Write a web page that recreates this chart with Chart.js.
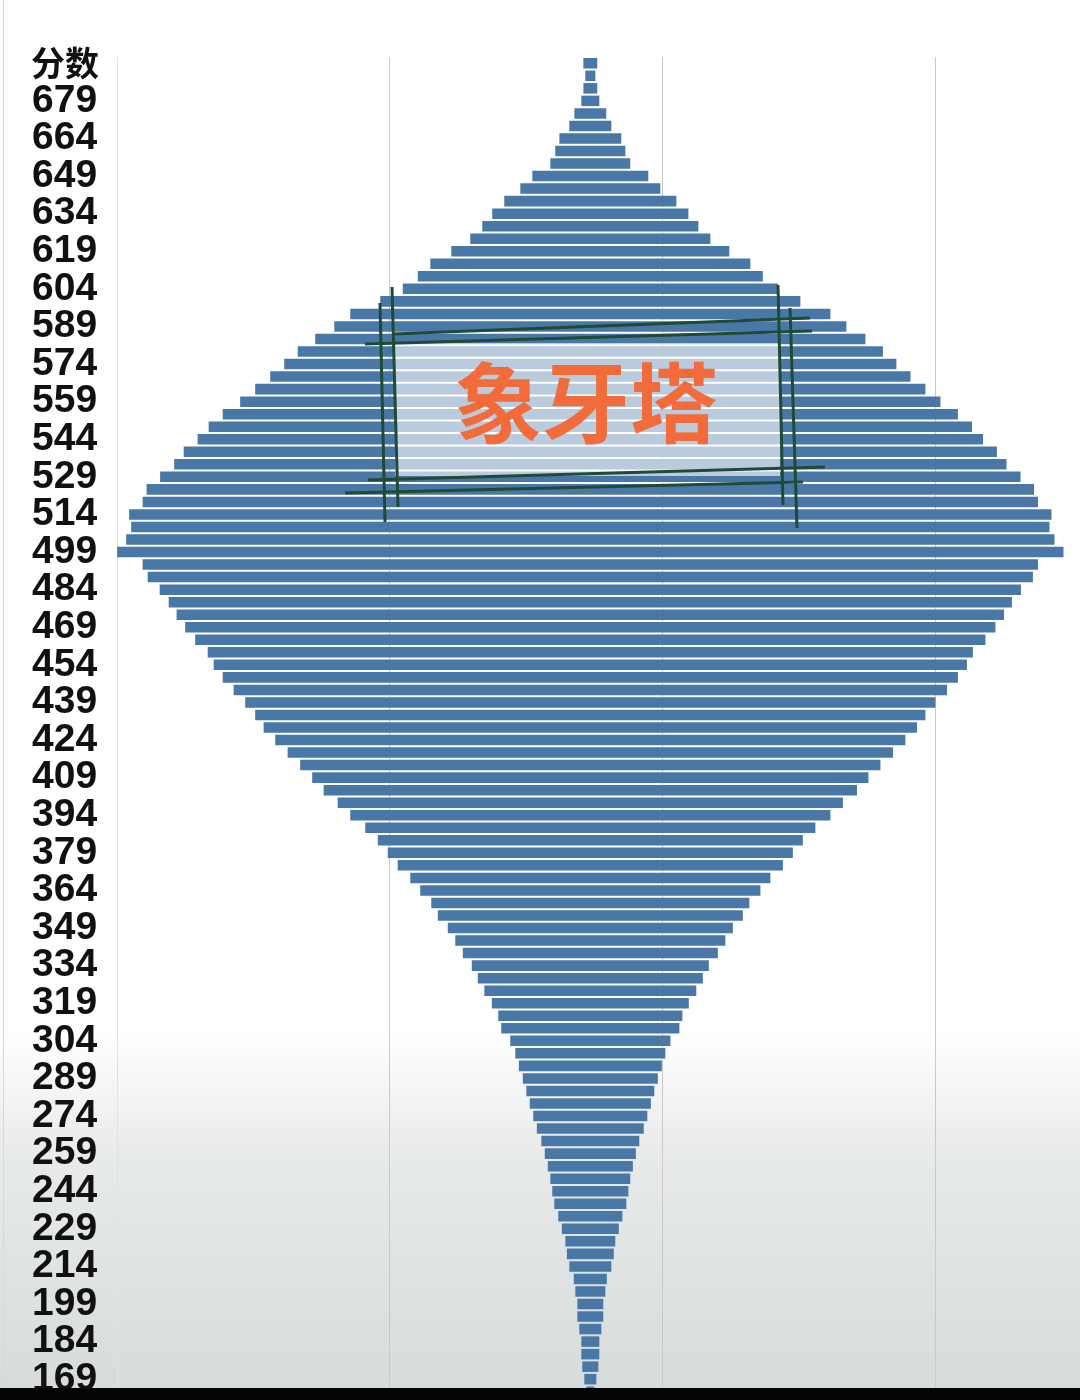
<!DOCTYPE html>
<html>
<head>
<meta charset="utf-8">
<script src="https://cdn.jsdelivr.net/npm/chart.js@4.4.0/dist/chart.umd.min.js"></script>
<style>
    body {
        margin: 0;
        width: 1080px;
        height: 1400px;
        overflow: hidden;
        background: linear-gradient(to bottom, #ffffff 0px, #ffffff 1030px, #e9ebeb 1150px, #d7dbdb 1390px);
        position: relative;
    }
    #wrap { position: absolute; left: 0; top: 0; width: 1080px; height: 1400px; }
    #head {
        position: absolute; left: 31px; top: 42px;
        font: bold 34px "Noto Sans CJK SC", sans-serif; color: #111; line-height: 40px;
    }
    #bottomBar { position: absolute; left: 0; top: 1388px; width: 1080px; height: 12px; background: #050505; }
    #edge { position: absolute; left: 3px; top: 0; width: 1px; height: 1388px; background: #d8d8d8; }
</style>
</head>
<body>
<div id="edge"></div>
<div id="wrap"><canvas id="chart"></canvas></div>
<div id="head">分数</div>
<div id="bottomBar"></div>
<script>
// score bins (5 points each), top to bottom
const scores = [694, 689, 684, 679, 674, 669, 664, 659, 654, 649,
    644, 639, 634, 629, 624, 619, 614, 609, 604, 599,
    594, 589, 584, 579, 574, 569, 564, 559, 554, 549,
    544, 539, 534, 529, 524, 519, 514, 509, 504, 499,
    494, 489, 484, 479, 474, 469, 464, 459, 454, 449,
    444, 439, 434, 429, 424, 419, 414, 409, 404, 399,
    394, 389, 384, 379, 374, 369, 364, 359, 354, 349,
    344, 339, 334, 329, 324, 319, 314, 309, 304, 299,
    294, 289, 284, 279, 274, 269, 264, 259, 254, 249,
    244, 239, 234, 229, 224, 219, 214, 209, 204, 199,
    194, 189, 184, 179, 174, 169, 164];

// number of candidates per bin
const counts = [51, 37, 51, 66, 117, 154, 227, 257, 293, 425,
    513, 631, 719, 792, 880, 1019, 1173, 1265, 1375, 1540,
    1760, 1877, 2017, 2145, 2244, 2347, 2457, 2567, 2695, 2798,
    2879, 2981, 3051, 3154, 3253, 3282, 3381, 3366, 3403, 3469,
    3282, 3245, 3157, 3091, 3033, 2970, 2897, 2805, 2761, 2695,
    2615, 2530, 2457, 2395, 2310, 2219, 2127, 2039, 1955, 1852,
    1760, 1650, 1558, 1485, 1412, 1320, 1247, 1166, 1118, 1045,
    990, 935, 869, 825, 777, 722, 675, 653, 587, 550,
    524, 495, 469, 444, 418, 392, 359, 334, 312, 293,
    279, 264, 235, 209, 183, 172, 154, 121, 110, 95,
    95, 81, 66, 66, 59, 44, 29];

const tickLabels = ["679", "664", "649", "634", "619", "604", "589", "574", "559", "544",
    "529", "514", "499", "484", "469", "454", "439", "424", "409", "394",
    "379", "364", "349", "334", "319", "304", "289", "274", "259", "244",
    "229", "214", "199", "184", "169"];

const gridValues = [0, 1000, 2000, 3000];
const CENTER = 1735;

// hand drawn "ivory tower" box
const towerPlugin = {
    id: "tower",
    afterDatasetsDraw(chart) {
        const ctx = chart.ctx;
        ctx.save();
        ctx.fillStyle = "rgba(255,255,255,0.62)";
        ctx.fillRect(395, 343, 385, 133);
        ctx.fillStyle = "#f26b3b";
        ctx.font = "bold 88px 'Noto Sans CJK SC'";
        ctx.textAlign = "center";
        ctx.textBaseline = "middle";
        ctx.fillText("象牙塔", 586, 403);
        ctx.strokeStyle = "#1e4a36";
        ctx.lineWidth = 3;
        const lines = [
            [380, 303, 385, 522], [392, 287, 398, 507],
            [778, 285, 783, 505], [790, 308, 797, 528],
            [365, 344, 812, 331], [392, 334, 810, 318],
            [368, 480, 825, 467], [345, 493, 803, 482]
        ];
        lines.forEach(l => {
            ctx.beginPath();
            ctx.moveTo(l[0], l[1]);
            ctx.lineTo(l[2], l[3]);
            ctx.stroke();
        });
        ctx.restore();
    }
};

const ctx = document.getElementById("chart").getContext("2d");
const myChart = new Chart(ctx, {
    type: "bar",
    data: {
        labels: scores.map(s => String(s)),
        datasets: [{
            label: "人数",
            data: counts.map(n => [CENTER - n / 2, CENTER + n / 2]),
            backgroundColor: "#4a78a6",
            borderWidth: 0,
            barPercentage: 0.84,
            categoryPercentage: 1
        }]
    },
    options: {
        indexAxis: "y",
        responsive: true,
        maintainAspectRatio: false,
        animation: false,
        layout: { padding: { left: 32, top: 57, bottom: 2, right: 0 } },
        plugins: {
            legend: { display: false },
            tooltip: { enabled: false }
        },
        scales: {
            x: {
                min: 0,
                max: 3530,
                afterBuildTicks: scale => {
                    scale.ticks = gridValues.map(v => ({ value: v }));
                },
                afterFit: scale => {
                    scale.height = 0;
                    scale.paddingLeft = 0;
                    scale.paddingRight = 0;
                },
                ticks: { display: false },
                border: { display: false },
                grid: {
                    drawTicks: false,
                    color: ctx => ctx.tick && ctx.tick.value === 0 ? "#e2e2e2" : "#c9c9c9",
                    lineWidth: 1
                }
            },
            y: {
                afterFit: scale => {
                    scale.width = 85;
                    scale.paddingTop = 0;
                    scale.paddingBottom = 0;
                },
                grid: { display: false },
                border: { display: false },
                ticks: {
                    autoSkip: false,
                    crossAlign: "far",
                    padding: 0,
                    color: "#111111",
                    font: { family: "'Liberation Sans', Arial, sans-serif", size: 39, weight: "bold" },
                    callback: function (value) {
                        const lab = this.getLabelForValue(value);
                        return tickLabels.includes(lab) ? lab : "";
                    }
                }
            }
        }
    },
    plugins: [towerPlugin]
});
</script>
</body>
</html>
